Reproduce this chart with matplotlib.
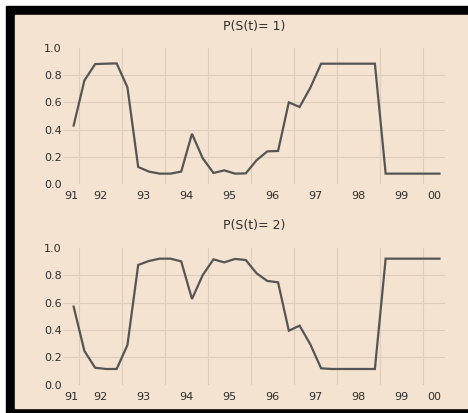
import matplotlib
matplotlib.use("Agg")
import matplotlib.pyplot as plt
from matplotlib.patches import Rectangle
import numpy as np

plt.rcParams['font.family'] = ['DejaVu Sans']

# quarterly probabilities, 1991Q4 .. 2000Q2
p_state1 = [0.43, 0.76, 0.88, 0.883, 0.885, 0.71, 0.127, 0.093, 0.078, 0.078,
            0.093, 0.37, 0.19, 0.083, 0.102, 0.078, 0.08, 0.176, 0.241, 0.244,
            0.60, 0.566, 0.707, 0.883, 0.883, 0.883, 0.883, 0.883, 0.883, 0.078,
            0.078, 0.078, 0.078, 0.078, 0.078]
p_state2 = [0.571, 0.247, 0.124, 0.115, 0.115, 0.29, 0.876, 0.905, 0.922, 0.922,
            0.902, 0.627, 0.802, 0.917, 0.895, 0.92, 0.912, 0.815, 0.759, 0.749,
            0.395, 0.432, 0.295, 0.12, 0.115, 0.115, 0.115, 0.115, 0.115, 0.922,
            0.922, 0.922, 0.922, 0.922, 0.922]
year_labels = ['91', '92', '93', '94', '95', '96', '97', '98', '99', '00']
titles = ['P(S(t)= 1)', 'P(S(t)= 2)']

start = 1991.75
x = start + 0.125 + 0.25 * np.arange(len(p_state1))

bg = '#f4e3d0'
grid_c = '#dccdbd'
txt_c = '#2e2e2e'
line_c = '#555555'

W, H = 468, 413
fig = plt.figure(figsize=(W / 100, H / 100), dpi=100, facecolor='white')

# black outer frame (left, top, bottom) + cream chart area running to the right edge
fig.patches.append(Rectangle((6 / W, 0), 1 - 6 / W, 1 - 6 / H,
                             transform=fig.transFigure, color='black', zorder=-2))
fig.patches.append(Rectangle((15 / W, 1 - 408 / H), 1 - 15 / W, (408 - 14.5) / H,
                             transform=fig.transFigure, color=bg, zorder=-1))

xmin, xmax = 1991.628, 2000.504
lab_pos = []
for k in range(len(year_labels)):
    a = max(1991 + k, xmin)
    b = min(1992 + k, xmax)
    lab_pos.append((a + b) / 2)

axes_pix = [(47.7, 184.3), (248.0, 384.7)]
title_pads = [12.7, 14]
for (top, bot), vals, title, tpad in zip(axes_pix, [p_state1, p_state2], titles, title_pads):
    ax = fig.add_axes([63 / W, 1 - bot / H, 382 / W, (bot - top) / H])
    ax.set_facecolor('none')
    ax.plot(x, vals, color=line_c, lw=1.6, solid_joinstyle='miter')
    ax.set_xlim(xmin, xmax)
    ax.set_ylim(0, 1)
    ax.set_yticks(np.arange(0, 1.01, 0.2))
    ax.set_yticklabels(['%.1f' % v for v in np.arange(0, 1.01, 0.2)])
    ax.set_xticks(lab_pos)
    ax.set_xticklabels(year_labels)
    ax.tick_params(which='both', length=0, colors=txt_c, labelsize=8)
    ax.tick_params(axis='x', pad=5)
    ax.tick_params(axis='y', pad=1)
    ax.grid(False)
    for xv in range(1992, 2001):
        ax.axvline(xv, color=grid_c, lw=0.8, zorder=0)
    for yv in [0.2, 0.4, 0.6, 0.8]:
        ax.axhline(yv, color=grid_c, lw=0.8, zorder=0)
    for s in ax.spines.values():
        s.set_visible(False)
    ax.set_title(title, fontsize=9, color=txt_c, pad=tpad)

fig.savefig('out.png', dpi=100, facecolor='white')
